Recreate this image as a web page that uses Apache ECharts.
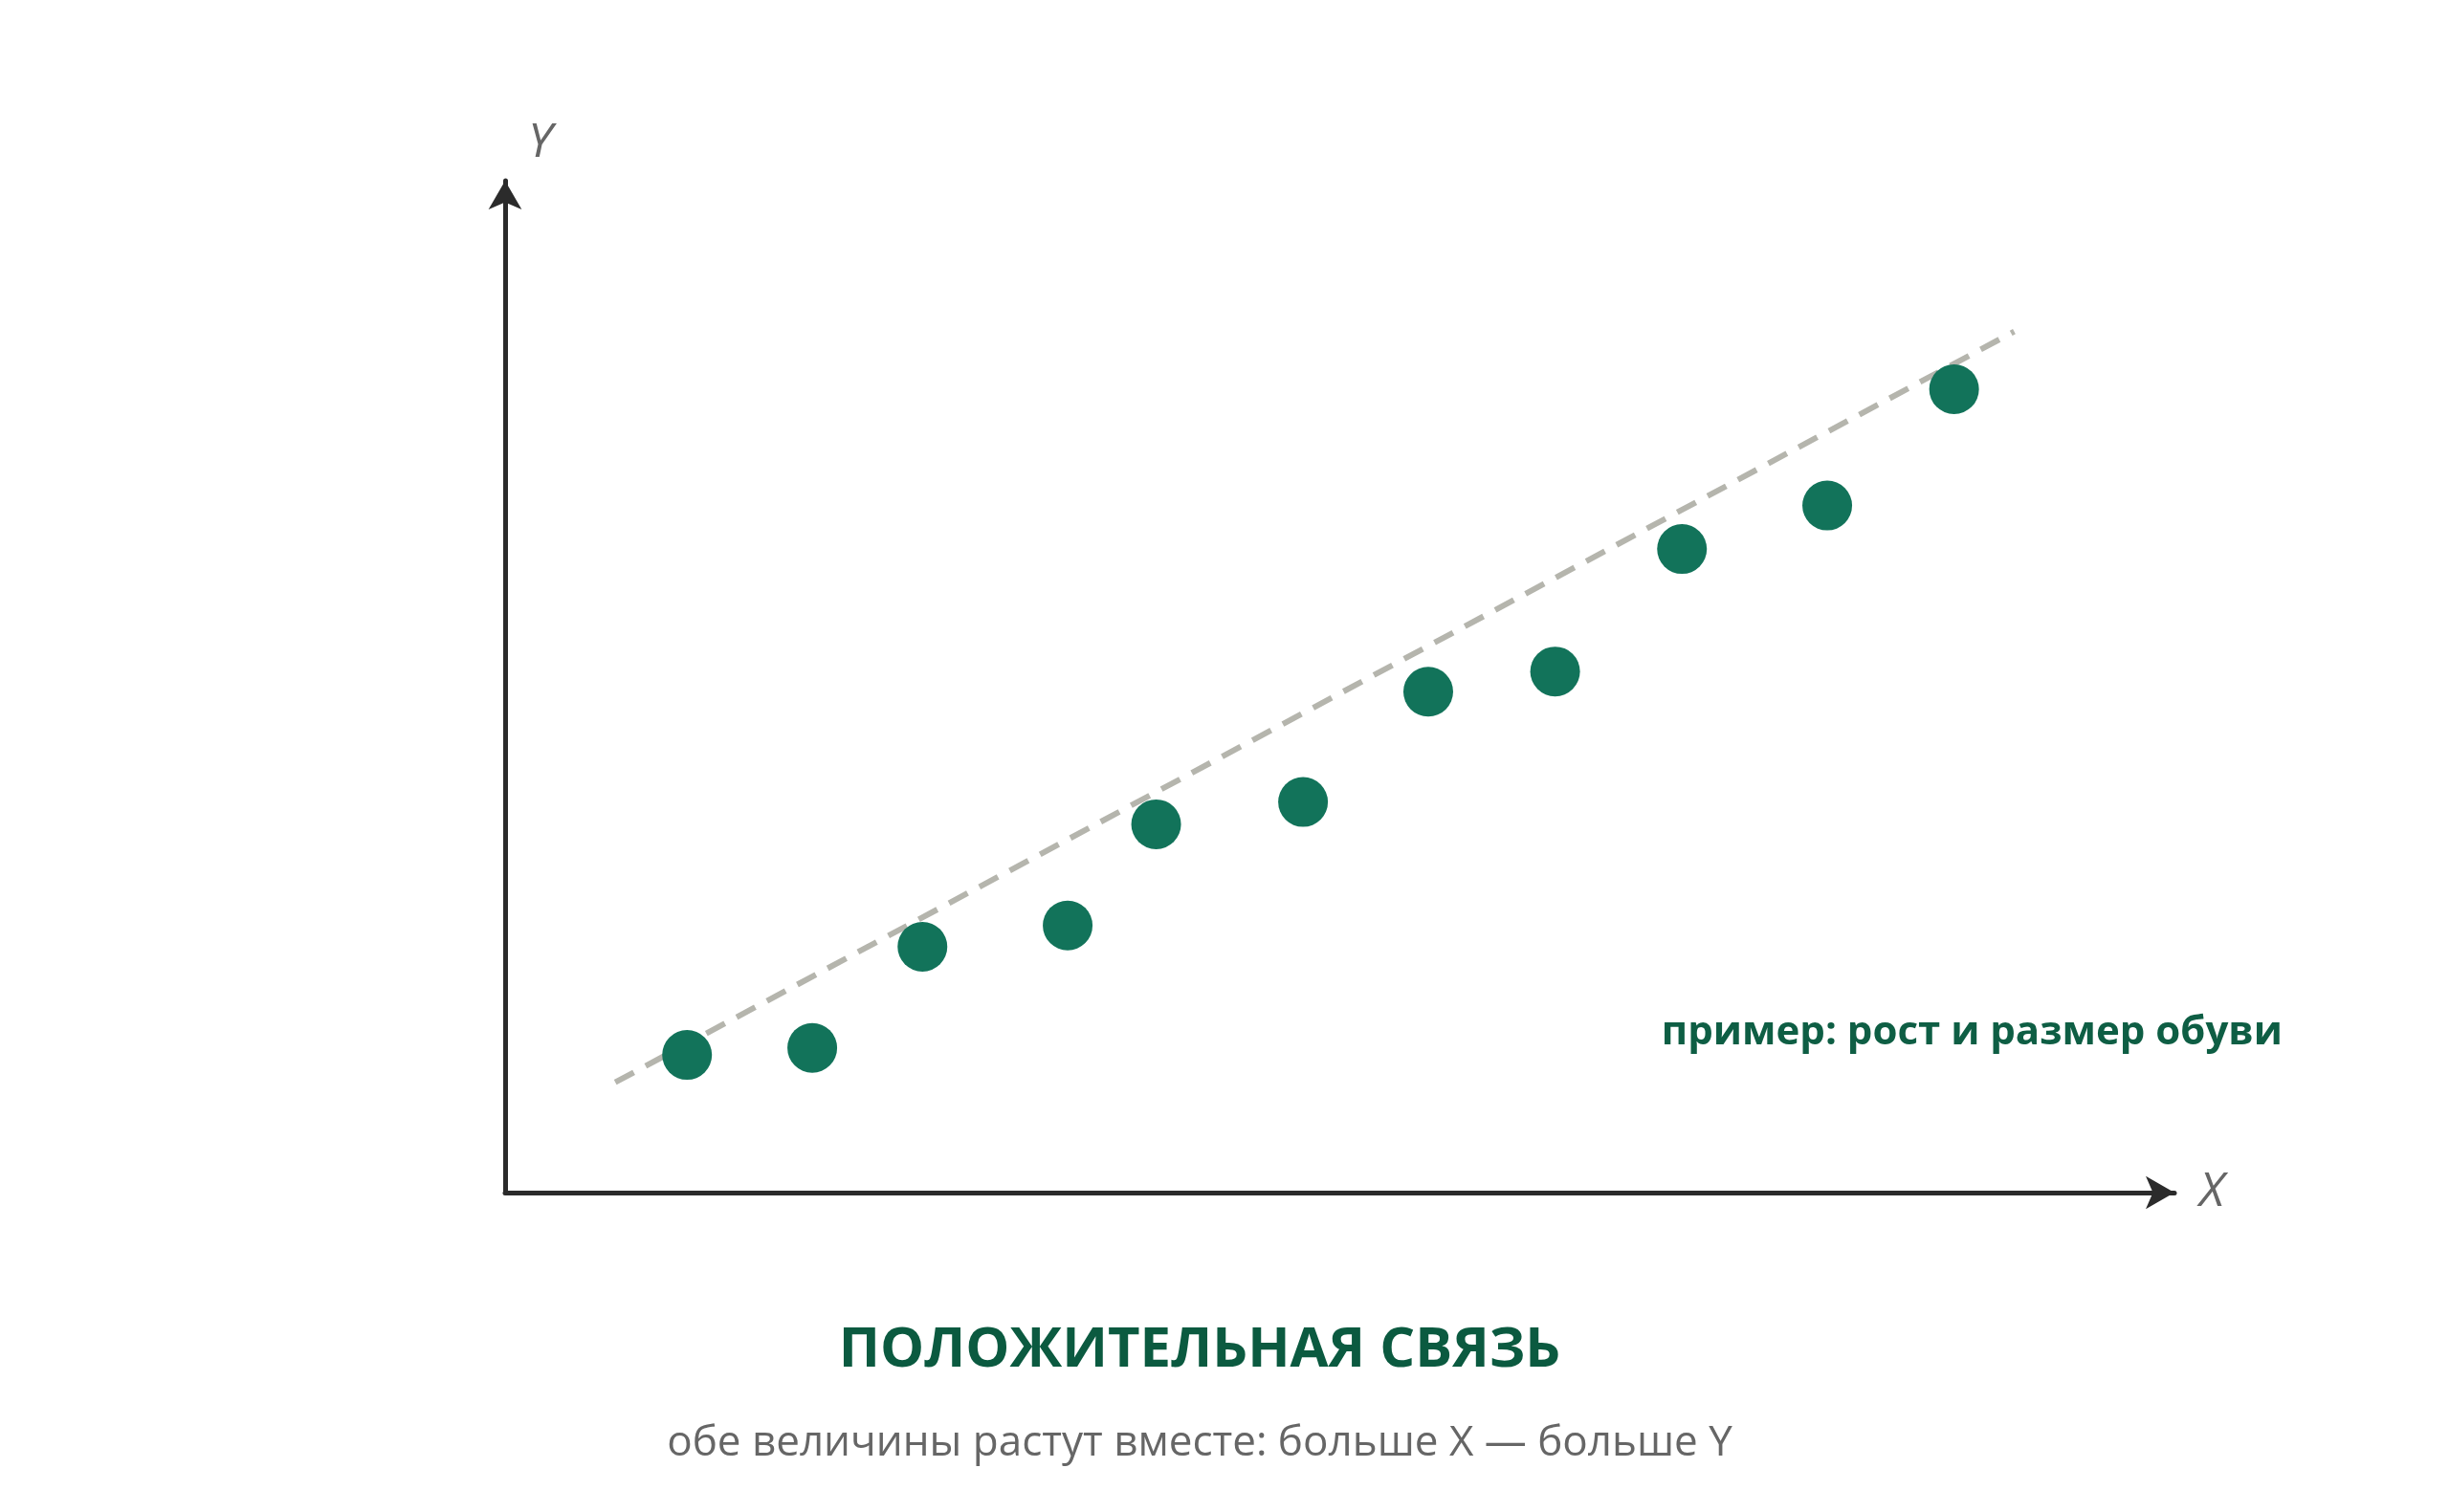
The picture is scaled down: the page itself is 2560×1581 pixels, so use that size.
<!DOCTYPE html>
<html><head><meta charset="utf-8">
<script src="https://cdn.jsdelivr.net/npm/echarts@6/dist/echarts.min.js"></script>
<style>html,body{margin:0;padding:0;background:#fff}#c{width:2560px;height:1581px}</style>
</head><body><div id="c"></div>
<script>
const xValues = [10.9, 18.4, 25.0, 33.7, 39.0, 47.8, 55.3, 62.9, 70.5, 79.2, 86.8];
const yValues = [13.6, 14.3, 24.3, 26.4, 36.4, 38.6, 49.5, 51.5, 63.6, 67.9, 79.4];
const trendX = [6.6, 90.4];
const trendY = [10.9, 85.1];
const titleText = 'ПОЛОЖИТЕЛЬНАЯ СВЯЗЬ';
const subtitleText = 'обе величины растут вместе: больше X — больше Y';
const noteText = 'пример: рост и размер обуви';

const font = '"Open Sans", "Noto Sans", sans-serif';
const chart = echarts.init(document.getElementById('c'));
const axisCommon = {
  type: 'value', min: 0, max: 100,
  axisLine: { show: true, symbol: ['none', 'arrow'], symbolSize: [26, 30], symbolOffset: [0, 0],
    lineStyle: { color: '#2b2b2b', width: 5 } },
  axisTick: { show: false }, axisLabel: { show: false }, splitLine: { show: false },
  nameTextStyle: { fontFamily: font, fontStyle: 'italic', fontSize: 50, color: '#666' }
};
chart.setOption({
  animation: false,
  grid: { left: 528, right: 287, top: 189, bottom: 334 },
  xAxis: Object.assign({}, axisCommon, { name: 'X', nameGap: 26 }),
  yAxis: Object.assign({}, axisCommon, { name: 'Y', nameGap: 14,
    nameTextStyle: Object.assign({}, axisCommon.nameTextStyle, { align: 'left', padding: [0, 0, 0, 24] }) }),
  title: [
    { text: titleText, left: 1249, top: 1378, textAlign: 'center',
      textStyle: { fontFamily: font, fontWeight: 'bold', fontSize: 58, color: '#0b5a40' } },
    { text: subtitleText, left: 1249, top: 1482, textAlign: 'center',
      textStyle: { fontFamily: font, fontWeight: 'normal', fontSize: 44, color: '#666' } },
    { text: noteText, right: 169, top: 1054,
      textStyle: { fontFamily: font, fontWeight: 'bold', fontSize: 42, color: '#0e5e44' } }
  ],
  series: [
    { type: 'line', data: trendX.map((x, i) => [x, trendY[i]]), symbol: 'none', z: 1,
      lineStyle: { color: '#b5b5ad', width: 6, type: [22, 14] } },
    { type: 'scatter', data: xValues.map((x, i) => [x, yValues[i]]), symbolSize: 52, z: 2,
      itemStyle: { color: '#12735a', opacity: 1 } }
  ]
});
</script></body></html>
